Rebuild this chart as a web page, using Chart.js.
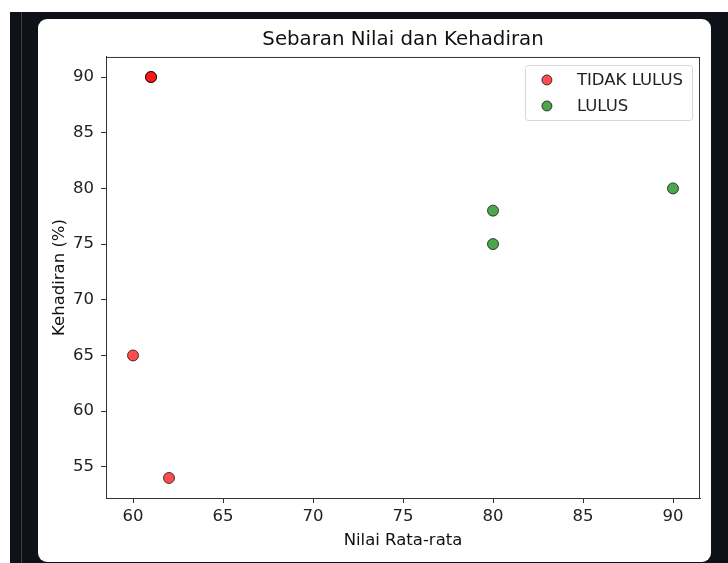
<!DOCTYPE html>
<html>
<head>
<meta charset="utf-8">
<script src="https://cdn.jsdelivr.net/npm/chart.js@4.4.1/dist/chart.umd.min.js"></script>
<style>
  html, body { margin: 0; padding: 0; background: #fff; }
  #page { position: relative; width: 728px; height: 563px; overflow: hidden; }
  #dark { position: absolute; left: 10px; top: 12px; right: 0; bottom: 0; background: #0e1117; }
  #rule { position: absolute; left: 21px; top: 12px; width: 1px; bottom: 0; background: #3b3e46; }
  #panel { position: absolute; left: 38px; top: 19px; width: 673px; height: 543px; background: #fff; border-radius: 9px; }
  canvas { position: absolute; left: 0; top: 0; }
</style>
</head>
<body>
<div id="page">
  <div id="dark"></div>
  <div id="rule"></div>
  <div id="panel"></div>
  <canvas id="scatterChart" width="728" height="563"></canvas>
</div>
<script>
var chartTitle = "Sebaran Nilai dan Kehadiran";
var xLabel = "Nilai Rata-rata";
var yLabel = "Kehadiran (%)";

var seriesNames = ["TIDAK LULUS", "LULUS"];
// nilai rata-rata / kehadiran
var tidakLulusNilai = [61, 61, 60, 62];
var tidakLulusHadir = [90, 90, 65, 54];
var lulusNilai = [80, 80, 90];
var lulusHadir = [78, 75, 80];

var xTicks = [60, 65, 70, 75, 80, 85, 90];
var yTicks = [55, 60, 65, 70, 75, 80, 85, 90];

function toPoints(xs, ys) {
  var pts = [];
  for (var i = 0; i < xs.length; i++) pts.push({x: xs[i], y: ys[i]});
  return pts;
}

var fontFam = "'DejaVu Sans', sans-serif";
var fontSize = 16.5;

// kotak di sekeliling area plot
var framePlugin = {
  id: 'frame',
  afterDraw: function(chart) {
    var a = chart.chartArea, c = chart.ctx;
    c.save();
    c.strokeStyle = '#333';
    c.lineWidth = 1;
    c.strokeRect(a.left + 0.5, a.top + 0.5, a.right - a.left - 1, a.bottom - a.top);
    c.restore();
  }
};

// legenda di dalam area plot (kanan atas)
var legendPlugin = {
  id: 'boxLegend',
  afterDraw: function(chart) {
    var a = chart.chartArea, c = chart.ctx;
    c.save();
    c.font = fontSize + 'px ' + fontFam;
    var maxW = 0;
    chart.data.datasets.forEach(function(ds) {
      maxW = Math.max(maxW, c.measureText(ds.label).width);
    });
    var w = 52 + maxW + 9, h = 55;
    var right = a.right - 8, top = a.top + 8, left = right - w;
    c.fillStyle = 'rgba(255,255,255,0.8)';
    c.strokeStyle = '#d6d6d6';
    c.lineWidth = 1;
    c.beginPath();
    c.roundRect(left + 0.5, top + 0.5, w, h, 3);
    c.fill();
    c.stroke();
    chart.data.datasets.forEach(function(ds, i) {
      var y = top + 15 + i * 26;
      c.beginPath();
      c.arc(left + 22, y, 5, 0, Math.PI * 2);
      c.fillStyle = ds.backgroundColor;
      c.fill();
      c.strokeStyle = ds.borderColor;
      c.lineWidth = 1;
      c.stroke();
      c.fillStyle = '#222';
      c.textBaseline = 'middle';
      c.fillText(ds.label, left + 52, y + 1);
    });
    c.restore();
  }
};

var ctx = document.getElementById("scatterChart").getContext("2d");
new Chart(ctx, {
  type: 'scatter',
  data: {
    datasets: [
      {
        label: seriesNames[0],
        data: toPoints(tidakLulusNilai, tidakLulusHadir),
        backgroundColor: "rgba(255,0,0,0.7)",
        borderColor: "rgba(0,0,0,0.7)",
        borderWidth: 1,
        pointRadius: 5.5,
        pointHoverRadius: 5.5
      },
      {
        label: seriesNames[1],
        data: toPoints(lulusNilai, lulusHadir),
        backgroundColor: "rgba(0,128,0,0.7)",
        borderColor: "rgba(0,0,0,0.7)",
        borderWidth: 1,
        pointRadius: 5.5,
        pointHoverRadius: 5.5
      }
    ]
  },
  options: {
    responsive: false,
    animation: false,
    devicePixelRatio: 1,
    layout: { padding: { left: 0, right: 28, top: 0, bottom: 0 } },
    plugins: {
      legend: { display: false },
      tooltip: { enabled: false },
      title: {
        display: true,
        text: chartTitle,
        fullSize: false,
        color: '#111',
        font: { family: fontFam, size: 19.8, weight: 'normal' },
        padding: { top: 28, bottom: 5.2 }
      }
    },
    scales: {
      x: {
        type: 'linear',
        min: 58.5,
        max: 91.5,
        afterBuildTicks: function(s) { s.ticks = xTicks.map(function(v) { return {value: v}; }); },
        afterFit: function(s) { s.height = 65; },
        grid: { drawOnChartArea: false, drawTicks: true, tickLength: 5, tickColor: '#333' },
        border: { display: true, color: '#333' },
        ticks: { color: '#222', padding: 4, font: { family: fontFam, size: fontSize } },
        title: {
          display: true, text: xLabel, color: '#111',
          font: { family: fontFam, size: fontSize },
          padding: { top: 0, bottom: 12 }
        }
      },
      y: {
        type: 'linear',
        min: 52.2,
        max: 91.8,
        afterBuildTicks: function(s) { s.ticks = yTicks.map(function(v) { return {value: v}; }); },
        afterFit: function(s) { s.width = 106; },
        grid: { drawOnChartArea: false, drawTicks: true, tickLength: 5, tickColor: '#333' },
        border: { display: true, color: '#333' },
        ticks: { color: '#222', padding: 7, font: { family: fontFam, size: fontSize } },
        title: {
          display: true, text: yLabel, color: '#111',
          font: { family: fontFam, size: fontSize },
          padding: { top: 50, bottom: 0 }
        }
      }
    }
  },
  plugins: [framePlugin, legendPlugin]
});
</script>
</body>
</html>
